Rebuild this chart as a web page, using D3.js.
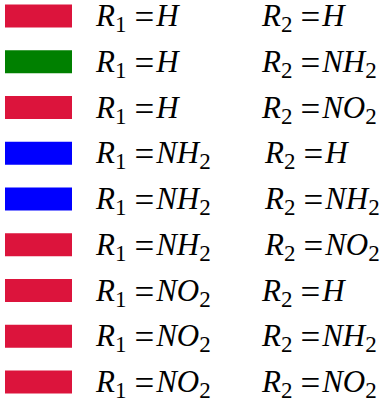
<!DOCTYPE html>
<html>
<head>
<meta charset="utf-8">
<script src="https://cdn.jsdelivr.net/npm/d3@7"></script>
<style>
  body { margin: 0; background: #fff; }
  text { font-family: "Liberation Serif", "DejaVu Serif", serif; font-size: 31px; fill: #000; }
</style>
</head>
<body>
<svg id="chart" width="385" height="398"></svg>
<script>
// legend entries: substituents and swatch colour
const r1 = ["H", "H", "H", "NH2", "NH2", "NH2", "NO2", "NO2", "NO2"];
const r2 = ["H", "NH2", "NO2", "H", "NH2", "NO2", "H", "NH2", "NO2"];
const colors = ["#dc143c", "#008000", "#dc143c", "#0000ff", "#0000ff", "#dc143c", "#dc143c", "#dc143c", "#dc143c"];

const svg = d3.select("#chart");
const rows = d3.range(r1.length);

const y = d3.scalePoint()
  .domain(rows)
  .range([16, 382]);

const g = svg.selectAll("g.entry")
  .data(rows)
  .enter()
  .append("g")
  .attr("class", "entry")
  .attr("transform", i => `translate(0,${y(i)})`);

g.append("rect")
  .attr("x", 5)
  .attr("y", -11.5)
  .attr("width", 67)
  .attr("height", 23)
  .style("fill", i => colors[i]);

// write "R_n = X" with subscripted digits like mathtext
function label(sel, n, val, x) {
  const t = sel.append("text").attr("x", x).attr("y", 10);
  t.append("tspan").style("font-style", "italic").text("R");
  t.append("tspan").attr("dy", 6).style("font-size", "23px").text(n);
  // "=" drawn a bit lower so it sits on the math axis
  t.append("tspan").attr("dy", -3).attr("dx", 8).style("font-size", "35px").text("=");
  const parts = val.match(/[A-Z]+|\d+/g);
  let shift = 3;
  parts.forEach(p => {
    if (/\d/.test(p)) {
      t.append("tspan").attr("dy", 6).style("font-size", "23px").text(p);
      shift = -6;
    } else {
      t.append("tspan").attr("dy", shift === 3 ? -3 : (shift === -6 ? -6 : 0)).attr("dx", 2).style("font-style", "italic").text(p);
      shift = 0;
    }
  });
}

g.each(function(i) {
  const s = d3.select(this);
  label(s, "1", r1[i], 96);
  label(s, "2", r2[i], r1[i] === "NH2" ? 265 : 262);
});
</script>
</body>
</html>
